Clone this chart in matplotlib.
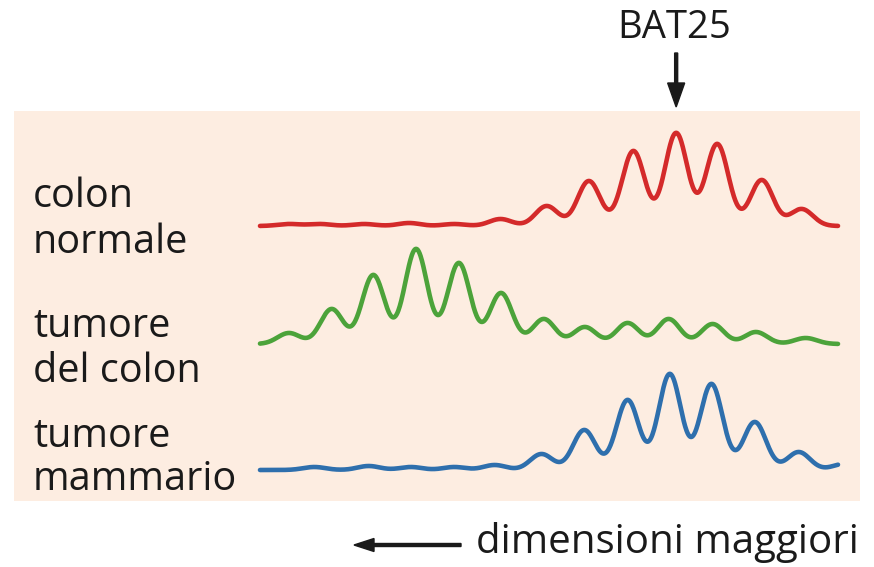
import numpy as np
import matplotlib
matplotlib.use("Agg")
import matplotlib.pyplot as plt
from matplotlib.patches import Rectangle

plt.rcParams['font.family'] = ['Open Sans', 'DejaVu Sans']

# posizioni dei picchi (0 = sinistra, 100 = destra) e altezze
samples = ["colon\nnormale", "tumore\ndel colon", "tumore\nmammario"]
colors = ['#d42a2a', '#4ca33a', '#2e6fad']

red_pos = [5.0, 10.4, 18.0, 25.8, 33.6, 41.6, 49.6, 56.9, 64.6, 72.0, 79.1, 86.8, 93.7]
red_h = [2, 2, 2, 3, 2, 7, 20, 45, 75, 93, 82, 46, 17]

green_pos = [5.0, 12.4, 19.6, 27.0, 34.4, 41.7, 49.1, 56.2, 63.6, 70.7, 78.3, 85.8, 94.4]
green_h = [11, 35, 69, 95, 81, 51, 25, 17, 21, 25, 20, 12, 6]

blue_pos = [9.4, 18.8, 26.1, 33.6, 40.6, 48.7, 56.1, 63.6, 70.9, 78.1, 85.6, 93.2, 101.0]
blue_h = [3, 4, 3, 3, 5, 16, 40, 70, 96, 86, 48, 18, 6]

marker_label = "BAT25"
marker_pos = 72.0
size_label = "dimensioni maggiori"

peaks = [(red_pos, red_h), (green_pos, green_h), (blue_pos, blue_h)]
baselines_px = [226, 344, 470]   # posizione verticale delle tracce (pixel)
label_baselines = [(207, 253), (337, 382), (447, 490)]
peak_width = 1.95

W, H = 874, 567
fig = plt.figure(figsize=(W / 100, H / 100), dpi=100)

# assi di impaginazione in pixel
lay = fig.add_axes([0, 0, 1, 1])
lay.set_xlim(0, W)
lay.set_ylim(H, 0)
lay.axis('off')

lay.add_patch(Rectangle((14, 111), 846, 390, facecolor='#fdede1', edgecolor='none'))

for name, (b1, b2) in zip(samples, label_baselines):
    l1, l2 = name.split("\n")
    lay.text(33, b1, l1, fontsize=28.5, va='baseline', ha='left', color='#1a1a1a')
    lay.text(33, b2, l2, fontsize=28.5, va='baseline', ha='left', color='#1a1a1a')

# tracce
x = np.linspace(0, 100, 1200)
x0, x1 = 260, 838
for (pos, h), base, c in zip(peaks, baselines_px, colors):
    ax = fig.add_axes([x0 / W, (H - base) / H, (x1 - x0) / W, 100 / H])
    y = np.zeros_like(x)
    for p, a in zip(pos, h):
        y += a * np.exp(-(x - p) ** 2 / (2 * peak_width ** 2))
    ax.plot(x, y, color=c, lw=3.3, solid_capstyle='round', clip_on=False)
    ax.set_xlim(0, 100)
    ax.set_ylim(0, 100)
    ax.axis('off')
    ax.patch.set_alpha(0)

# freccia BAT25
mx = x0 + marker_pos / 100 * (x1 - x0)
lay.text(mx - 2, 38, marker_label, fontsize=27.5, ha='center', va='baseline', color='#1a1a1a')
lay.arrow(mx, 53, 0, 54, width=3, head_width=17, head_length=24,
          length_includes_head=True, color='#1a1a1a')

# freccia dimensioni
lay.arrow(461, 545, -107, 0, width=3, head_width=13, head_length=20,
          length_includes_head=True, color='#1a1a1a')
lay.text(859, 553, size_label, fontsize=29, ha='right', va='baseline', color='#1a1a1a')

fig.savefig("out.png", dpi=100, facecolor='white')
